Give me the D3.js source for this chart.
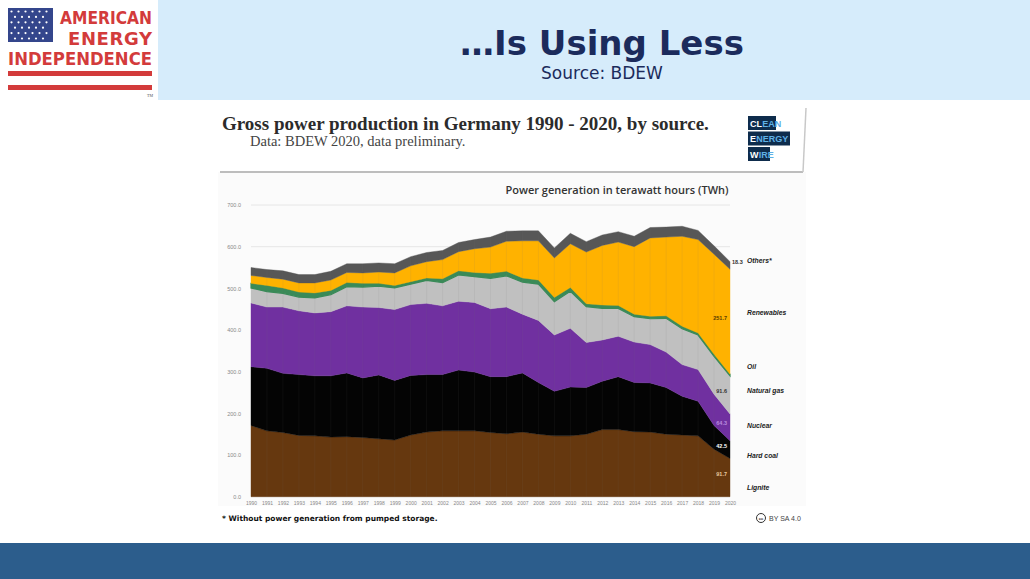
<!DOCTYPE html>
<html>
<head>
<meta charset="utf-8">
<script src="https://cdn.jsdelivr.net/npm/d3@7"></script>
<style>
  html, body { margin: 0; padding: 0; background: #fff; }
  svg { display: block; }
</style>
</head>
<body>
<div id="chart"></div>
<script>
// data (TWh)
var years = d3.range(1990, 2021);
var lignite   = [171, 158, 154, 147, 146, 143, 144, 142, 139, 136, 148, 155, 158, 158, 158, 154, 151, 155, 150, 146, 146, 150, 161, 161, 156, 155, 150, 148, 146, 114, 91.7];
var hardCoal  = [141, 150, 142, 146, 144, 147, 153, 143, 153, 143, 143, 138, 135, 146, 141, 134, 137, 142, 124, 107, 117, 112, 116, 127, 118, 118, 112, 93, 83, 57, 42.5];
var nuclear   = [153, 147, 159, 153, 151, 154, 161, 170, 162, 170, 170, 171, 165, 165, 167, 163, 167, 141, 149, 135, 141, 108, 99, 97, 97, 92, 85, 76, 76, 75, 64.3];
var gas       = [36, 37, 33, 33, 36, 41, 46, 48, 51, 52, 49, 55, 56, 63, 62, 73, 75, 77, 87, 80, 89, 86, 76, 67, 61, 62, 81, 86, 83, 91, 91.6];
var oil       = [11, 15, 13, 12, 12, 10, 10, 9, 7, 6, 6, 6, 9, 10, 10, 12, 11, 10, 10, 10, 9, 7, 8, 7, 6, 6, 6, 6, 5, 5, 4];
var renewable = [19, 19, 21, 22, 24, 25, 24, 25, 27, 30, 38, 39, 46, 46, 57, 63, 72, 89, 94, 95, 105, 124, 143, 152, 162, 188, 189, 216, 224, 240, 251.7];
var others    = [19, 19, 20, 20, 20, 21, 21, 22, 22, 22, 22, 22, 22, 22, 22, 24, 24, 24, 24, 24, 25, 25, 25, 25, 25, 25, 24, 24, 22, 20, 18.3];

var keys = ["Lignite", "Hard coal", "Nuclear", "Natural gas", "Oil", "Renewables", "Others*"];
var series = [lignite, hardCoal, nuclear, gas, oil, renewable, others];
var colors = ["#66380f", "#040404", "#7030a0", "#c0c0c0", "#3a8a58", "#ffb200", "#575757"];
var yTicks = [0, 100, 200, 300, 400, 500, 600, 700];
// where the right hand names sit (TWh)
var namePos = [21, 98, 170, 254, 311, 441, 566];
// value labels shown for 2020
var endLabels = ["91.7", "42.5", "64.3", "91.6", null, "251.7", "18.3"];
var endLabelColors = ["#e6c9a0", "#ffffff", "#b98ade", "#333333", null, "#5a3d00", "#333333"];

var W = 1030, H = 579;
var svg = d3.select("#chart").append("svg").attr("width", W).attr("height", H);

// header band
svg.append("rect").attr("x", 158).attr("y", 0).attr("width", W - 158).attr("height", 100).attr("fill", "#d6ecfb");
svg.append("text").attr("x", 602).attr("y", 55).attr("text-anchor", "middle")
  .style("font-family", "DejaVu Sans, sans-serif").style("font-weight", "bold").style("font-size", "34px")
  .attr("fill", "#1b2b5c").text("\u2026Is Using Less");
svg.append("text").attr("x", 602).attr("y", 79).attr("text-anchor", "middle")
  .style("font-family", "DejaVu Sans, sans-serif").style("font-size", "17px")
  .attr("fill", "#1b2b5c").text("Source: BDEW");

// bottom band
svg.append("rect").attr("x", 0).attr("y", 543).attr("width", W).attr("height", H - 543).attr("fill", "#2c5d8c");

// logo
var logo = svg.append("g");
logo.append("rect").attr("x", 8).attr("y", 8).attr("width", 45).attr("height", 34).attr("fill", "#34468c");
for (var r = 0; r < 6; r++) {
  for (var c = 0; c < (r % 2 ? 5 : 6); c++) {
    logo.append("circle").attr("cx", 11.5 + c * 7 + (r % 2 ? 3.5 : 0)).attr("cy", 11.5 + r * 5.4).attr("r", 1.1).attr("fill", "#fff");
  }
}
logo.append("text").attr("x", 60).attr("y", 24).attr("textLength", 92).attr("lengthAdjust", "spacingAndGlyphs")
  .style("font-family", "DejaVu Sans, sans-serif").style("font-weight", "bold").style("font-size", "18px")
  .attr("fill", "#d33b3b").text("AMERICAN");
logo.append("text").attr("x", 68).attr("y", 45).attr("textLength", 84).attr("lengthAdjust", "spacing")
  .style("font-family", "DejaVu Sans, sans-serif").style("font-weight", "bold").style("font-size", "18px")
  .attr("fill", "#d33b3b").text("ENERGY");
logo.append("text").attr("x", 8).attr("y", 65).attr("textLength", 144).attr("lengthAdjust", "spacingAndGlyphs")
  .style("font-family", "DejaVu Sans, sans-serif").style("font-weight", "bold").style("font-size", "18px")
  .attr("fill", "#d33b3b").text("INDEPENDENCE");
logo.append("rect").attr("x", 8).attr("y", 71).attr("width", 144).attr("height", 5).attr("fill", "#d33b3b");
logo.append("rect").attr("x", 8).attr("y", 85).attr("width", 144).attr("height", 5).attr("fill", "#d33b3b");
logo.append("text").attr("x", 147).attr("y", 97).style("font-size", "4px").attr("fill", "#555").text("TM");

// chart card title
svg.append("rect").attr("x", 218).attr("y", 106).attr("width", 588).attr("height", 400).attr("fill", "#fbfbfb");
svg.append("rect").attr("x", 218).attr("y", 106).attr("width", 588).attr("height", 66).attr("fill", "#ffffff");
svg.append("line").attr("x1", 220).attr("x2", 803).attr("y1", 172).attr("y2", 172).attr("stroke", "#bdbdbd").attr("stroke-width", 2);
svg.append("line").attr("x1", 806).attr("x2", 803).attr("y1", 108).attr("y2", 172).attr("stroke", "#c8c8c8").attr("stroke-width", 1.5);
svg.append("text").attr("x", 222).attr("y", 130)
  .style("font-family", "Liberation Serif, serif").style("font-weight", "bold").style("font-size", "19px")
  .attr("fill", "#2b2b2b").text("Gross power production in Germany 1990 - 2020, by source.");
svg.append("text").attr("x", 250).attr("y", 146)
  .style("font-family", "Liberation Serif, serif").style("font-size", "14.5px")
  .attr("fill", "#444").text("Data: BDEW 2020, data preliminary.");

// clean energy wire badge
var cew = [["CL", "EAN", 116, 28], ["E", "NERGY", 131.5, 42], ["W", "IRE", 147, 22]];
cew.forEach(function(b) {
  svg.append("rect").attr("x", 748).attr("y", b[2]).attr("width", b[3]).attr("height", 14).attr("fill", "#0e2c4c");
  var t1 = svg.append("text").attr("x", 750).attr("y", b[2] + 10.5)
    .style("font-family", "Liberation Sans Narrow, Liberation Sans, sans-serif").style("font-weight", "bold").style("font-size", "9px")
    .attr("fill", "#ffffff").text(b[0]);
  var w1 = t1.node().getComputedTextLength();
  svg.append("text").attr("x", 750 + w1 + 0.3).attr("y", b[2] + 10.5)
    .style("font-family", "Liberation Sans Narrow, Liberation Sans, sans-serif").style("font-weight", "bold").style("font-size", "9px")
    .attr("fill", "#5fb0e6").text(b[1]);
});

svg.append("text").attr("x", 617).attr("y", 194).attr("text-anchor", "middle")
  .style("font-family", "Open Sans, sans-serif").style("font-weight", "600").style("font-size", "11px")
  .attr("fill", "#333").text("Power generation in terawatt hours (TWh)");

// scales
var x = d3.scaleLinear().domain([1990, 2020]).range([251, 730]);
var y = d3.scaleLinear().domain([0, 700]).range([496.7, 205]);

// grid
svg.append("g").selectAll("line").data(yTicks).join("line")
  .attr("x1", 251).attr("x2", 730).attr("y1", function(d) { return y(d); }).attr("y2", function(d) { return y(d); })
  .attr("stroke", "#e6e6e6").attr("stroke-width", 1);

// stack
var rows = years.map(function(yr, i) {
  var o = {year: yr};
  keys.forEach(function(k, j) { o[k] = series[j][i]; });
  return o;
});
var stacked = d3.stack().keys(keys)(rows);

var area = d3.area()
  .x(function(d) { return x(d.data.year); })
  .y0(function(d) { return y(d[0]); })
  .y1(function(d) { return y(d[1]); });

svg.append("g").selectAll("path").data(stacked).join("path")
  .attr("d", area)
  .attr("fill", function(d, i) { return colors[i]; })
  .attr("stroke", function(d, i) { return colors[i]; })
  .attr("stroke-width", function(d, i) { return keys[i] === "Oil" ? 1.2 : 0.4; });

// faint year lines over the areas
var topLayer = stacked[stacked.length - 1];
svg.append("g").selectAll("line").data(topLayer.slice(1, -1)).join("line")
  .attr("x1", function(d) { return x(d.data.year); }).attr("x2", function(d) { return x(d.data.year); })
  .attr("y1", function(d) { return y(d[1]); }).attr("y2", y(0))
  .attr("stroke", "#7a7a7a").attr("stroke-opacity", 0.12).attr("stroke-width", 0.8);

// axes
var yAxis = svg.append("g").attr("transform", "translate(244,0)")
  .call(d3.axisLeft(y).tickValues(yTicks).tickFormat(d3.format(".1f")).tickSize(0));
yAxis.select(".domain").remove();
yAxis.selectAll("text").attr("fill", "#888").style("font-size", "5.5px").style("font-family", "Liberation Sans, sans-serif");

var xAxis = svg.append("g").attr("transform", "translate(0," + y(0) + ")")
  .call(d3.axisBottom(x).tickValues(years).tickFormat(d3.format("d")).tickSize(0).tickPadding(5));
xAxis.select(".domain").remove();
xAxis.selectAll("text").attr("fill", "#888").style("font-size", "5px").style("font-family", "Liberation Sans, sans-serif");

// series names on the right
svg.append("g").selectAll("text").data(keys).join("text")
  .attr("x", 747).attr("y", function(d, i) { return y(namePos[i]) + 2; })
  .style("font-family", "Liberation Sans, sans-serif").style("font-style", "italic").style("font-weight", "bold")
  .style("font-size", "6.8px").attr("fill", "#222").text(function(d) { return d; });

// 2020 values
var last = stacked.map(function(s) { return s[s.length - 1]; });
last.forEach(function(d, i) {
  if (!endLabels[i]) return;
  var isTop = i === keys.length - 1;
  svg.append("text")
    .attr("x", isTop ? 732 : 727)
    .attr("y", isTop ? y(d[1]) + 2 : y((d[0] + d[1]) / 2) - 2)
    .attr("text-anchor", isTop ? "start" : "end")
    .style("font-family", "Liberation Sans, sans-serif").style("font-weight", "bold").style("font-size", "5.5px")
    .attr("fill", endLabelColors[i]).text(endLabels[i]);
});

// footnote and licence
svg.append("text").attr("x", 222).attr("y", 521)
  .style("font-family", "DejaVu Sans, sans-serif").style("font-weight", "bold").style("font-size", "7.5px")
  .attr("fill", "#111").text("* Without power generation from pumped storage.");
svg.append("circle").attr("cx", 761).attr("cy", 518).attr("r", 4.5).attr("fill", "#fff").attr("stroke", "#333").attr("stroke-width", 1);
svg.append("text").attr("x", 761).attr("y", 520).attr("text-anchor", "middle")
  .style("font-family", "Liberation Sans, sans-serif").style("font-weight", "bold").style("font-size", "4px").attr("fill", "#333").text("cc");
svg.append("text").attr("x", 769).attr("y", 520.5)
  .style("font-family", "Liberation Sans, sans-serif").style("font-size", "7px").attr("fill", "#444").text("BY SA 4.0");
</script>
</body>
</html>
